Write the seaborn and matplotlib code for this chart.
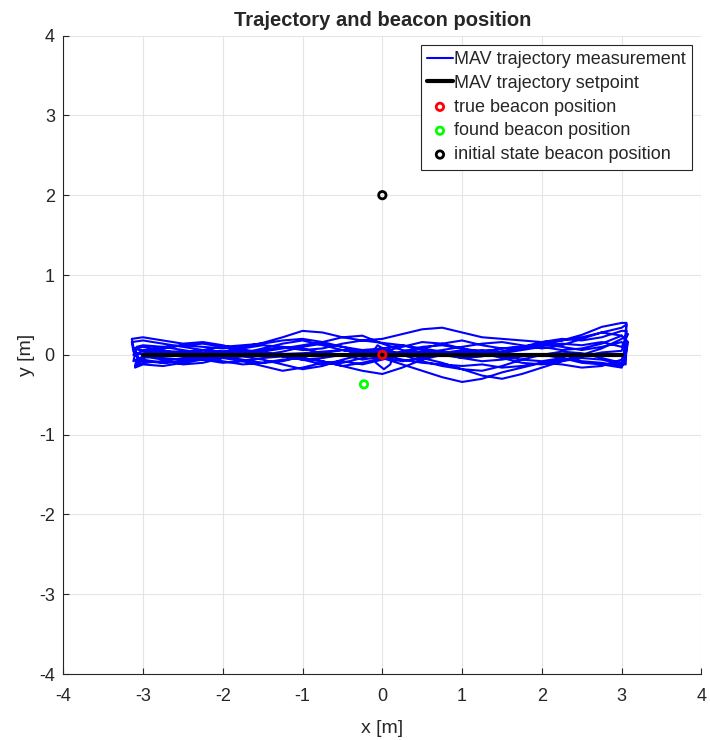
import matplotlib
matplotlib.use("Agg")
import matplotlib.pyplot as plt
import seaborn as sns
import pandas as pd

# ---- data ----
# x stations of each straight pass (m)
pass_x = [-3.0, -2.75, -2.5, -2.25, -2.0, -1.75, -1.5, -1.25, -1.0, -0.75, -0.5, -0.25,
          0.0, 0.25, 0.5, 0.75, 1.0, 1.25, 1.5, 1.75, 2.0, 2.25, 2.5, 2.75, 3.0]
# measured y of each pass, listed by increasing x (odd passes are flown right -> left)
pass_y = [
    [0.05, 0.10, 0.12, 0.10, 0.08, 0.10, 0.15, 0.22, 0.30, 0.28, 0.22, 0.18, 0.15,
     0.12, 0.08, 0.04, 0.02, 0.04, 0.08, 0.10, 0.12, 0.18, 0.25, 0.35, 0.40],
    [0.00, -0.04, -0.06, -0.05, -0.08, -0.12, -0.10, -0.06, -0.04, -0.08, -0.14, -0.10, -0.04,
     -0.12, -0.20, -0.28, -0.34, -0.30, -0.22, -0.16, -0.10, -0.06, -0.02, 0.03, 0.05],
    [0.18, 0.14, 0.10, 0.06, 0.04, 0.08, 0.12, 0.10, 0.06, 0.08, 0.14, 0.18, 0.20,
     0.26, 0.32, 0.34, 0.28, 0.22, 0.20, 0.18, 0.16, 0.18, 0.22, 0.28, 0.24],
    [-0.12, -0.14, -0.10, -0.06, -0.04, -0.08, -0.14, -0.20, -0.16, -0.10, -0.08, -0.12, -0.06,
     0.00, 0.04, 0.02, -0.04, -0.08, -0.06, -0.02, 0.00, -0.04, -0.08, -0.10, -0.14],
    [-0.04, 0.00, 0.04, 0.06, 0.04, 0.02, 0.06, 0.10, 0.08, 0.02, 0.00, 0.04, 0.06,
     0.02, -0.04, -0.10, -0.18, -0.26, -0.30, -0.24, -0.16, -0.08, 0.00, 0.08, 0.20],
    [0.22, 0.18, 0.14, 0.16, 0.12, 0.06, 0.02, 0.00, -0.04, -0.08, -0.14, -0.20, -0.24,
     -0.16, -0.06, 0.00, 0.04, 0.06, 0.04, 0.08, 0.12, 0.14, 0.12, 0.16, 0.10],
    [-0.08, -0.10, -0.08, -0.04, -0.02, 0.02, 0.04, 0.08, 0.12, 0.16, 0.22, 0.24, 0.14,
     0.06, 0.02, 0.06, 0.10, 0.14, 0.16, 0.12, 0.08, 0.12, 0.20, 0.28, 0.34],
    [0.02, 0.04, 0.02, 0.06, 0.10, 0.12, 0.14, 0.18, 0.20, 0.16, 0.10, 0.04, 0.00,
     -0.06, -0.10, -0.12, -0.14, -0.12, -0.16, -0.14, -0.10, -0.12, -0.16, -0.14, -0.06],
    [0.10, 0.06, 0.00, -0.06, -0.10, -0.08, -0.04, -0.02, -0.06, -0.12, -0.10, -0.04, 0.04,
     0.10, 0.16, 0.14, 0.08, 0.04, 0.02, 0.06, 0.10, 0.06, 0.08, 0.14, 0.24],
    [-0.06, -0.10, -0.08, -0.02, 0.02, 0.06, 0.04, -0.02, -0.06, -0.04, 0.00, -0.06, -0.02,
     0.04, 0.10, 0.12, 0.08, 0.02, -0.02, -0.06, -0.08, -0.04, -0.10, -0.12, -0.16],
    [0.06, 0.08, 0.12, 0.14, 0.10, 0.04, 0.00, 0.04, 0.10, 0.14, 0.10, 0.06, 0.08,
     0.12, 0.06, 0.00, -0.04, -0.02, 0.04, 0.10, 0.16, 0.20, 0.18, 0.22, 0.30],
    [-0.02, -0.06, -0.12, -0.10, -0.04, -0.02, -0.06, -0.12, -0.18, -0.14, -0.06, 0.00, 0.04,
     0.00, -0.08, -0.14, -0.18, -0.20, -0.14, -0.06, 0.00, 0.04, 0.02, -0.04, -0.10],
    [0.12, 0.10, 0.06, 0.02, 0.00, 0.02, 0.08, 0.14, 0.18, 0.12, 0.06, 0.02, -0.04,
     0.02, 0.08, 0.14, 0.18, 0.12, 0.08, 0.10, 0.14, 0.10, 0.06, 0.10, 0.16],
    [-0.10, -0.08, -0.04, 0.00, -0.02, -0.06, -0.10, -0.08, -0.02, 0.02, 0.06, 0.02, -0.04,
     -0.08, -0.04, 0.02, 0.06, 0.02, -0.04, -0.10, -0.12, -0.08, -0.04, -0.06, -0.12],
]
# turn-around points flown after each pass
turn_x = [[3.06, 3.04], [-3.12, -3.14], [3.05, 3.02], [-3.10, -3.06], [3.08, 3.06],
          [-3.14, -3.10], [3.06, 3.05], [-3.12, -3.08], [3.08, 3.04], [-3.10, -3.06],
          [3.06, 3.04], [-3.12, -3.08], [3.06, 3.05], [-3.08, -3.05]]
turn_y = [[0.40, 0.18], [0.04, 0.16], [0.18, -0.02], [-0.16, -0.08], [0.26, 0.22],
          [0.20, 0.00], [0.38, 0.08], [0.00, 0.08], [0.16, -0.06], [-0.14, 0.02],
          [0.30, 0.00], [-0.08, 0.10], [0.10, -0.12], [-0.14, -0.08]]
# take-off scribble near the origin before the first pass
start_x = [0.0, 0.08, 0.14, 0.10, 0.02, -0.08, -0.12, -0.06, 0.04, -0.02, -0.5, -1.0,
           -1.5, -2.0, -2.5, -3.0, -3.1]
start_y = [0.0, 0.08, 0.02, -0.12, -0.18, -0.10, 0.04, 0.12, 0.06, 0.02, 0.06, 0.02,
           0.00, 0.02, 0.04, 0.05, 0.08]

setpoint_x = [-3.0, 3.0]
setpoint_y = [0.0, 0.0]
beacon_labels = ["true beacon position", "found beacon position", "initial state beacon position"]
beacon_x = [0.0, -0.23, 0.0]
beacon_y = [0.0, -0.37, 2.0]
beacon_colors = ["#ff0000", "#00ff00", "#000000"]
ticks = [-4, -3, -2, -1, 0, 1, 2, 3, 4]

# ---- assemble flight order ----
traj_x, traj_y = list(start_x), list(start_y)
for i, ys in enumerate(pass_y):
    if i % 2 == 0:
        traj_x += pass_x
        traj_y += ys
    else:
        traj_x += pass_x[::-1]
        traj_y += ys[::-1]
    traj_x += turn_x[i]
    traj_y += turn_y[i]

# ---- style ----
sns.set_theme(style="whitegrid")
plt.rcParams["font.family"] = ["Liberation Sans", "DejaVu Sans"]
plt.rcParams["axes.unicode_minus"] = False
plt.rcParams["grid.color"] = "#e5e5e5"
plt.rcParams["grid.linewidth"] = 0.8

fig = plt.figure(figsize=(7.1, 7.4), dpi=100)
ax = fig.add_axes([0.089, 0.089, 0.899, 0.863])

traj = pd.DataFrame({"x": traj_x, "y": traj_y})
sns.lineplot(data=traj, x="x", y="y", sort=False, estimator=None, ax=ax,
             color="#0000ff", linewidth=1.5, label="MAV trajectory measurement")
sp = pd.DataFrame({"x": setpoint_x, "y": setpoint_y})
sns.lineplot(data=sp, x="x", y="y", sort=False, estimator=None, ax=ax,
             color="black", linewidth=3.0, label="MAV trajectory setpoint")
for lbl, bx, by, c in zip(beacon_labels, beacon_x, beacon_y, beacon_colors):
    sns.scatterplot(x=[bx], y=[by], ax=ax, s=28, marker="o", facecolors="none",
                    edgecolors=c, linewidths=2.0, label=lbl, zorder=5)

ax.set_xlim(-4, 4)
ax.set_ylim(-4, 4)
ax.set_xticks(ticks)
ax.set_yticks(ticks)
ax.set_xlabel("x [m]", fontsize=14, color="#262626", labelpad=11)
ax.set_ylabel("y [m]", fontsize=14, color="#262626", labelpad=3)
ax.set_title("Trajectory and beacon position", fontsize=14.5, fontweight="bold", pad=7)
ax.tick_params(axis="x", direction="in", length=4, width=0.8, colors="#262626",
               labelsize=13, bottom=True, top=False, pad=10)
ax.tick_params(axis="y", direction="in", length=4, width=0.8, colors="#262626",
               labelsize=13, left=True, right=False, pad=6)
ax.spines["top"].set_visible(False)
ax.spines["right"].set_visible(False)
for s in ("left", "bottom"):
    ax.spines[s].set_color("#262626")
    ax.spines[s].set_linewidth(0.8)
ax.set_facecolor("white")

leg = ax.legend(loc="upper right", fontsize=13, frameon=True, fancybox=False,
                edgecolor="#262626", framealpha=1, handlelength=1.4, handletextpad=0.1,
                borderpad=0.35, labelspacing=0.38, borderaxespad=0.5)
leg.get_frame().set_linewidth(0.8)

fig.savefig("out.png", dpi=100)
